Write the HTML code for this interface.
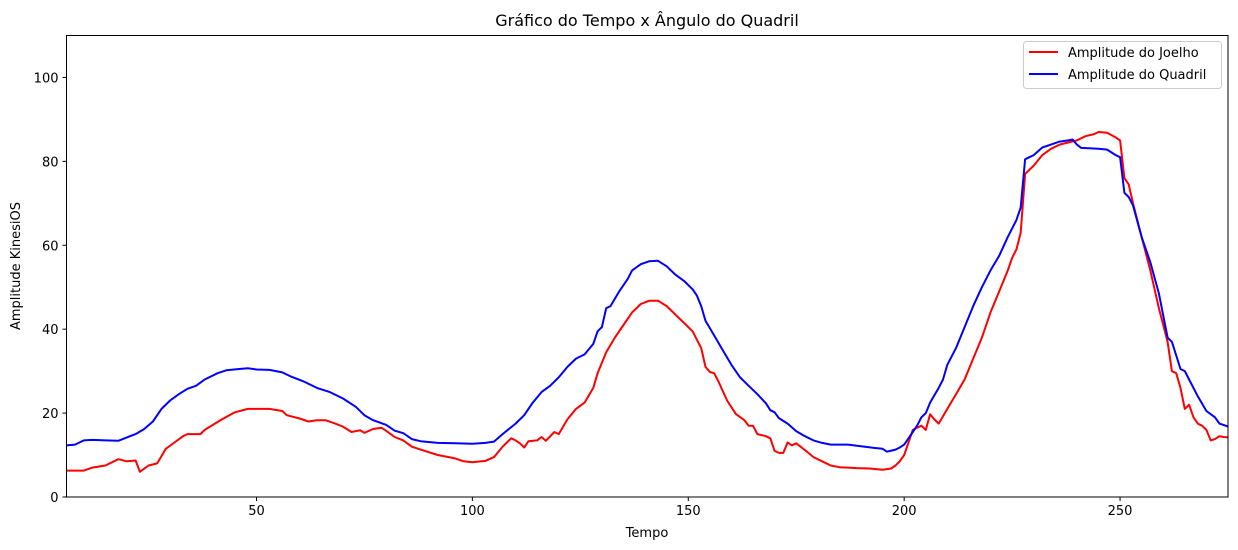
<!DOCTYPE html>
<html><head><meta charset="utf-8"><style>
body{margin:0;background:#fff;width:1238px;height:550px;overflow:hidden}
svg{display:block;font-family:"DejaVu Sans","Liberation Sans",sans-serif}
</style></head><body>
<svg id="chart" width="1238" height="550">
<text x="647" y="26" font-size="16" text-anchor="middle">Gráfico do Tempo x Ângulo do Quadril</text>
<text x="647" y="537" font-size="13" text-anchor="middle">Tempo</text>
<text transform="translate(20,266) rotate(-90)" font-size="13" text-anchor="middle">Amplitude KinesiOS</text>
<g id="ticks"></g>
<g id="series"></g>
<rect x="66.5" y="35.5" width="1161.5" height="461.5" fill="none" stroke="#000" stroke-width="1"/>
<g>
<rect x="1023.5" y="41.5" width="198" height="47" rx="3" fill="#fff" fill-opacity="0.8" stroke="#ccc"/>
<g>
<line x1="1029" y1="52" x2="1058" y2="52" stroke="red" stroke-width="2"/>
<text x="1068" y="57" font-size="13">Amplitude do Joelho</text></g>
<g>
<line x1="1029" y1="74" x2="1058" y2="74" stroke="blue" stroke-width="2"/>
<text x="1068" y="79" font-size="13">Amplitude do Quadril</text></g>
</g>
</svg>
<script>
const xTicks=[50,100,150,200,250];
const yTicks=[0,20,40,60,80,100];
const kneeT=[6,10,12,15,18,20,22,23,25,27,29,31,33,34,37,38,42,45,48,50,53,56,57,60,62,64,66,68,70,72,74,75,77,79,80,82,84,86,88,92,96,98,100,103,105,107,109,110,111,112,113,115,116,117,119,120,122,124,126,128,129,131,133,135,137,139,141,143,145,147,149,151,153,154,155,156,157,159,161,163,164,165,166,168,169,170,171,172,173,174,175,177,179,181,183,185,187,189,192,195,197,198,199,200,201,202,204,205,206,207,208,210,212,214,216,218,220,222,224,225,226,227,228,230,232,234,236,238,240,242,244,245,247,249,250,251,252,253,255,257,259,261,262,263,264,265,266,267,268,269,270,271,272,273,274,275];
const kneeV=[6.3,6.3,7,7.5,9,8.5,8.7,6,7.5,8,11.5,13,14.5,15,15,16,18.5,20.2,21,21,21,20.5,19.5,18.7,18,18.3,18.3,17.6,16.8,15.5,15.9,15.3,16.2,16.5,15.8,14.3,13.5,12,11.3,10,9.2,8.5,8.3,8.6,9.5,12,14,13.5,12.8,11.8,13.3,13.5,14.3,13.4,15.5,15,18.5,21,22.5,26,29.5,34.5,38,41,44,46,46.8,46.8,45.5,43.5,41.5,39.5,35.5,31,29.8,29.5,27.5,23,19.8,18.3,17,17,15,14.5,14,11,10.5,10.5,13,12.3,12.8,11.2,9.5,8.5,7.5,7.1,7,6.9,6.8,6.5,6.8,7.5,8.5,10,13,16,17,16,19.7,18.5,17.5,21,24.5,28,33,38,44,49,54,57,59,63,77,79,81.5,83,84,84.5,85,86,86.5,87,86.8,85.7,85,76,74.5,70,62,54,45,37,30,29.5,26,21,22,19,17.5,17,16,13.5,13.8,14.5,14.3,14.2];
const hipT=[6,8,10,12,15,18,20,22,24,26,28,30,32,34,36,38,41,43,46,48,50,53,56,58,61,64,67,70,73,75,77,80,82,84,86,88,92,96,100,103,105,107,110,112,114,116,118,120,122,124,126,128,129,130,131,132,134,136,137,139,141,143,145,147,149,151,152,153,154,156,158,160,162,164,166,168,169,170,171,173,175,177,179,181,183,187,190,193,195,196,198,199,200,201,202,203,204,205,206,208,209,210,212,214,216,218,220,222,224,226,227,228,229,230,232,234,236,238,239,240,241,245,247,249,250,251,252,253,255,257,259,261,262,264,265,266,268,270,272,273,275];
const hipV=[12.3,12.5,13.5,13.6,13.5,13.4,14.2,15,16.2,18,21,23,24.5,25.8,26.5,28,29.5,30.2,30.5,30.7,30.4,30.3,29.7,28.7,27.5,26,25,23.5,21.5,19.5,18.3,17.2,15.8,15.2,13.8,13.3,12.9,12.8,12.7,12.9,13.2,15,17.5,19.5,22.5,25,26.5,28.5,31,33,34,36.5,39.5,40.5,45,45.5,49,52,54,55.5,56.2,56.3,55,53,51.5,49.5,48,45.5,42,38.5,35,31.5,28.5,26.5,24.5,22.3,20.7,20.2,18.8,17.5,15.7,14.5,13.5,12.9,12.5,12.5,12.1,11.7,11.5,10.8,11.3,11.8,12.5,14,15.5,17,19,20,22.5,26,28,31.5,35.5,40.5,45.5,50,54,57.5,62,66,69,80.5,81,81.5,83.3,84,84.7,85,85.2,84,83.2,83,82.8,81.5,81,72.5,71.5,69.5,62,56,48.5,38,37,30.5,30,28,24,20.5,19,17.5,16.8];
const NS='http://www.w3.org/2000/svg';
const L=66.5,R=1228,T=35.5,B=497;
const X0=6,X1=275,Y0=0,Y1=110;
function sx(t){return L+(t-X0)/(X1-X0)*(R-L);}
function sy(v){return B-(v-Y0)/(Y1-Y0)*(B-T);}
const tg=document.getElementById('ticks');
xTicks.forEach(t=>{
  const l=document.createElementNS(NS,'line');
  l.setAttribute('x1',sx(t));l.setAttribute('x2',sx(t));l.setAttribute('y1',B);l.setAttribute('y2',B+4);l.setAttribute('stroke','#000');
  
  
  tg.appendChild(l);
  const tx=document.createElementNS(NS,'text');
  tx.setAttribute('x',sx(t));tx.setAttribute('y',B+18);tx.setAttribute('font-size','13');tx.setAttribute('text-anchor','middle');
  tx.textContent=t;
  
  
  tg.appendChild(tx);
});
yTicks.forEach(v=>{
  const l=document.createElementNS(NS,'line');
  l.setAttribute('x1',L-4);l.setAttribute('x2',L);l.setAttribute('y1',sy(v));l.setAttribute('y2',sy(v));l.setAttribute('stroke','#000');
  
  
  tg.appendChild(l);
  const tx=document.createElementNS(NS,'text');
  tx.setAttribute('x',L-8);tx.setAttribute('y',sy(v)+5);tx.setAttribute('font-size','13');tx.setAttribute('text-anchor','end');
  tx.textContent=v;
  
  
  tg.appendChild(tx);
});
const sg=document.getElementById('series');
function line(ts,vs,color,name){
  const p=document.createElementNS(NS,'polyline');
  p.setAttribute('points',ts.map((t,i)=>sx(t).toFixed(1)+','+sy(vs[i]).toFixed(1)).join(' '));
  p.setAttribute('fill','none');p.setAttribute('stroke',color);p.setAttribute('stroke-width','2');p.setAttribute('stroke-linejoin','round');
  
  
  sg.appendChild(p);
}
line(kneeT,kneeV,'red','knee-line');
line(hipT,hipV,'blue','hip-line');
</script>
</body></html>
